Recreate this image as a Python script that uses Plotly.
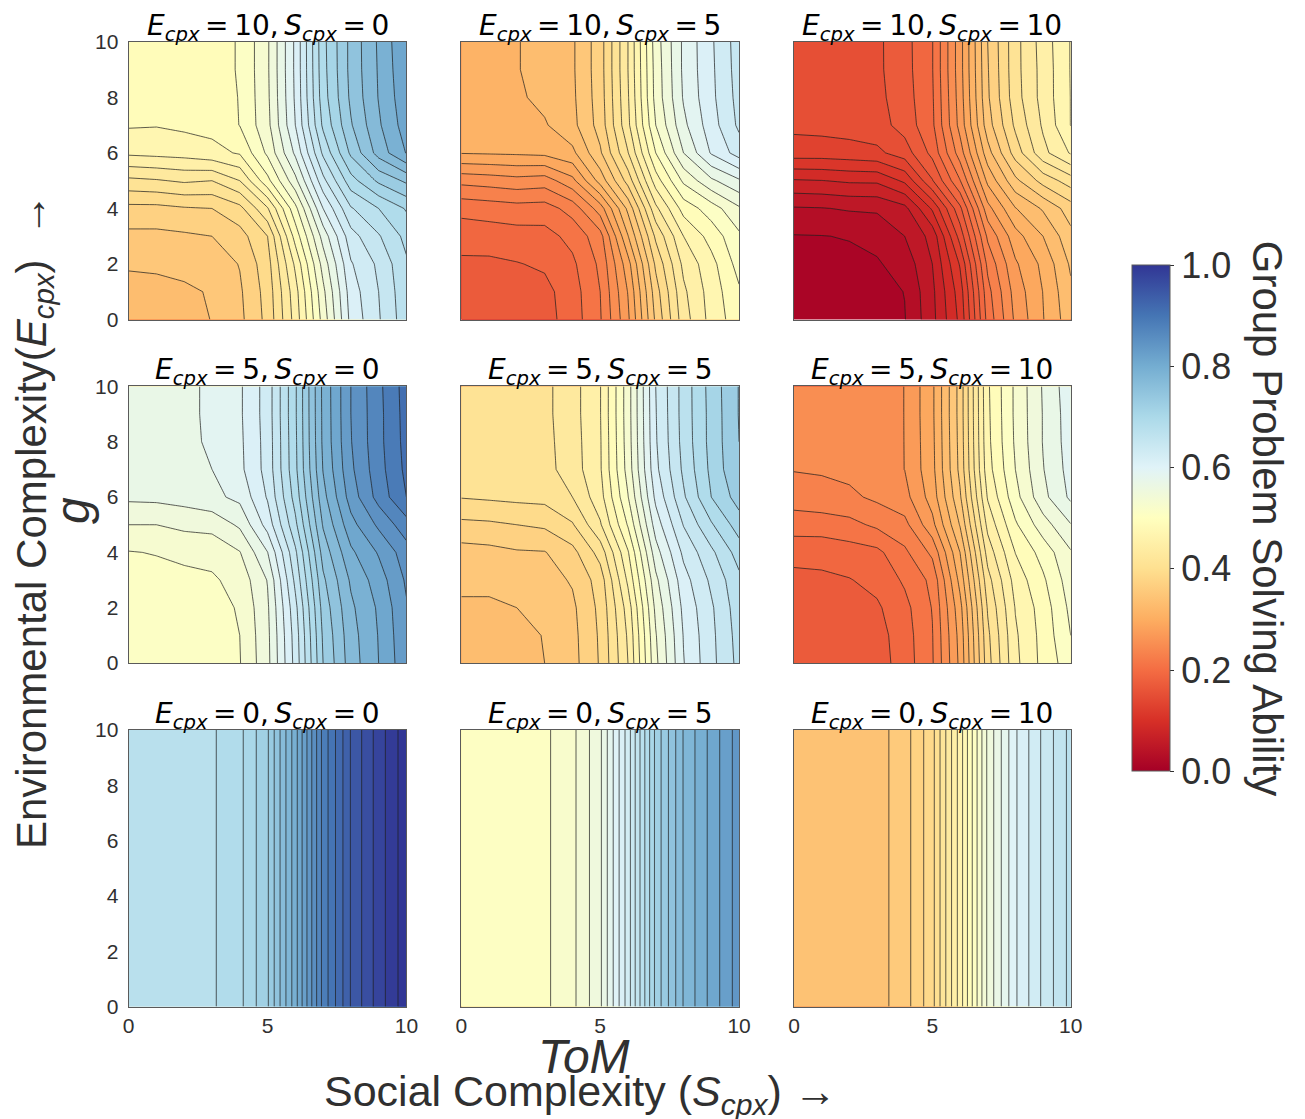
import plotly.graph_objects as go

# Group problem solving ability in percent.
# Rows run from g = 0 (first) to g = 10 (last), columns from ToM = 0 to ToM = 10.
tom = [0, 1, 2, 3, 4, 5, 6, 7, 8, 9, 10]
g = [0, 1, 2, 3, 4, 5, 6, 7, 8, 9, 10]

e10_s0 = [
    [32.2, 32.3, 32.8, 34.1, 35.5, 38.6, 44.8, 52.8, 60.6, 63.8, 67.2],
    [32.8, 33.1, 33.6, 34.2, 35.7, 38.8, 45.2, 53.5, 61.0, 64.0, 67.4],
    [34.4, 34.5, 34.7, 34.8, 36.1, 39.2, 46.4, 54.8, 61.8, 64.4, 67.7],
    [35.5, 35.5, 35.7, 36.0, 37.2, 40.0, 48.8, 56.8, 63.2, 65.8, 68.6],
    [37.4, 37.4, 37.8, 38.0, 39.4, 43.8, 51.4, 60.0, 65.8, 68.0, 70.2],
    [41.5, 41.8, 42.3, 42.0, 44.0, 49.4, 55.4, 63.4, 69.2, 72.4, 74.4],
    [46.4, 46.6, 46.8, 47.4, 48.2, 52.4, 58.4, 66.4, 72.4, 76.8, 80.1],
    [48.2, 48.1, 48.4, 48.6, 50.05, 53.4, 60.0, 68.4, 73.8, 77.7, 81.0],
    [49.2, 49.1, 49.3, 49.4, 50.05, 53.6, 60.3, 69.1, 74.4, 78.1, 81.4],
    [49.4, 49.3, 49.4, 49.5, 50.1, 53.7, 60.4, 69.3, 74.6, 78.2, 81.7],
    [49.4, 49.3, 49.4, 49.5, 50.1, 53.7, 60.4, 69.4, 74.6, 78.3, 81.9],
]
e10_s5 = [
    [16.2, 16.3, 16.6, 17.2, 19.0, 21.8, 27.6, 36.4, 43.1, 46.7, 49.2],
    [16.6, 16.9, 17.1, 17.4, 19.1, 22.0, 28.1, 37.1, 43.6, 46.9, 49.7],
    [17.6, 17.6, 17.9, 18.3, 19.6, 22.4, 29.2, 38.4, 44.5, 47.3, 50.8],
    [18.9, 19.0, 19.2, 19.3, 20.6, 23.2, 31.9, 40.4, 46.0, 48.8, 51.6],
    [20.6, 20.9, 21.2, 21.1, 22.8, 27.0, 34.5, 43.5, 48.8, 51.0, 53.7],
    [24.6, 24.9, 25.3, 25.0, 27.4, 32.8, 38.8, 47.0, 52.4, 55.6, 57.7],
    [30.1, 30.2, 30.3, 30.5, 31.5, 35.7, 41.9, 50.0, 56.0, 60.2, 62.9],
    [30.9, 30.9, 31.0, 31.8, 33.4, 36.8, 43.5, 52.0, 57.5, 61.1, 64.4],
    [31.2, 31.4, 31.7, 32.5, 33.6, 37.0, 43.8, 52.7, 58.2, 61.5, 64.7],
    [31.3, 31.6, 31.9, 32.7, 33.7, 37.1, 44.0, 52.8, 58.4, 61.6, 64.9],
    [31.3, 31.6, 31.9, 32.7, 33.7, 37.1, 44.0, 53.0, 58.4, 61.7, 65.0],
]
e10_s10 = [
    [0.1, 0.2, 0.5, 1.1, 1.9, 5.4, 10.5, 20.7, 26.4, 29.9, 33.2],
    [0.4, 0.65, 0.95, 1.25, 2.05, 5.55, 11.0, 21.3, 26.85, 30.05, 33.6],
    [1.1, 1.25, 1.55, 1.8, 2.8, 6.0, 12.2, 22.5, 27.7, 30.5, 34.3],
    [1.9, 1.95, 2.1, 2.55, 4.0, 6.7, 14.8, 24.4, 29.2, 32.0, 35.4],
    [3.8, 3.9, 4.2, 4.3, 5.4, 10.3, 17.5, 27.3, 31.9, 34.25, 37.0],
    [7.8, 7.95, 8.3, 8.35, 10.4, 15.85, 21.9, 30.5, 35.5, 38.75, 41.0],
    [13.0, 13.0, 13.2, 13.55, 15.0, 18.6, 25.0, 33.2, 38.9, 43.4, 46.2],
    [14.5, 14.65, 14.85, 15.15, 16.8, 19.6, 26.7, 35.1, 40.4, 44.3, 48.05],
    [14.9, 14.95, 15.15, 15.45, 17.1, 19.75, 27.0, 35.7, 41.15, 44.75, 48.05],
    [15.0, 15.1, 15.3, 15.6, 17.25, 19.9, 27.2, 35.85, 41.3, 44.75, 48.1],
    [15.0, 15.1, 15.3, 15.6, 17.3, 19.9, 27.2, 36.0, 41.3, 44.9, 48.1],
]
e5_s0 = [
    [50.1, 50.2, 50.5, 50.9, 51.9, 55.4, 62.7, 72.0, 77.0, 80.0, 83.4],
    [50.2, 50.3, 50.6, 51.0, 52.0, 55.5, 62.9, 72.3, 77.2, 80.1, 83.6],
    [50.6, 50.7, 51.0, 51.2, 52.2, 55.7, 63.4, 72.8, 77.6, 80.3, 83.8],
    [51.1, 51.3, 51.55, 51.7, 52.75, 56.1, 64.5, 73.6, 78.3, 81.0, 84.3],
    [51.9, 52.1, 52.4, 52.7, 53.9, 57.95, 65.6, 74.8, 79.6, 82.2, 85.1],
    [54.0, 54.0, 54.5, 54.65, 56.35, 60.8, 67.5, 76.2, 81.3, 84.4, 87.2],
    [56.4, 56.5, 56.8, 57.5, 58.5, 62.2, 68.8, 77.3, 82.9, 86.75, 90.0],
    [56.8, 57.0, 57.3, 58.0, 59.5, 62.75, 69.5, 78.1, 83.6, 87.2, 90.5],
    [57.0, 57.2, 57.5, 58.3, 59.6, 62.8, 69.6, 78.4, 83.9, 87.4, 90.7],
    [57.0, 57.2, 57.5, 58.4, 59.7, 62.9, 69.7, 78.45, 84.0, 87.4, 90.8],
    [57.0, 57.2, 57.5, 58.4, 59.7, 62.9, 69.7, 78.5, 84.0, 87.5, 90.9],
]
e5_s5 = [
    [32.1, 32.2, 32.7, 34.0, 35.3, 38.2, 44.0, 53.5, 59.9, 63.4, 66.6],
    [32.5, 32.55, 33.0, 34.15, 35.4, 38.3, 44.3, 53.85, 60.1, 63.5, 66.8],
    [33.6, 33.6, 34.0, 34.5, 35.6, 38.5, 44.9, 54.5, 60.5, 63.7, 67.1],
    [34.6, 34.6, 34.9, 35.2, 36.2, 38.9, 46.4, 55.5, 61.2, 64.4, 67.5],
    [35.2, 35.4, 35.8, 35.9, 37.35, 40.8, 47.8, 57.15, 62.45, 65.55, 68.9],
    [37.5, 37.65, 38.0, 38.35, 39.8, 43.75, 50.2, 58.95, 64.1, 67.75, 71.0],
    [40.1, 40.3, 40.5, 40.6, 42.0, 45.2, 51.9, 60.5, 65.7, 70.0, 72.9],
    [40.6, 40.8, 40.9, 41.3, 43.0, 45.75, 52.8, 61.5, 66.4, 70.5, 73.9],
    [40.8, 40.9, 41.1, 41.4, 43.1, 45.8, 53.0, 61.8, 66.7, 70.7, 74.0],
    [40.9, 41.0, 41.2, 41.5, 43.2, 45.9, 53.1, 61.9, 66.8, 70.7, 74.1],
    [40.9, 41.0, 41.2, 41.5, 43.2, 45.9, 53.1, 62.0, 66.8, 70.8, 74.1],
]
e5_s10 = [
    [16.1, 16.2, 16.5, 17.0, 19.0, 21.8, 28.5, 39.2, 45.5, 48.6, 51.2],
    [16.4, 16.5, 16.8, 17.2, 19.1, 21.9, 28.75, 39.55, 45.7, 48.7, 52.0],
    [16.9, 17.0, 17.3, 17.7, 19.4, 22.1, 29.3, 40.2, 46.1, 48.9, 52.5],
    [17.5, 17.6, 17.9, 18.6, 20.3, 22.5, 30.65, 41.25, 46.8, 49.65, 53.1],
    [18.6, 18.7, 19.1, 19.5, 21.6, 24.45, 32.0, 42.85, 48.05, 50.8, 53.8],
    [21.0, 21.0, 21.4, 22.4, 23.4, 27.4, 34.15, 44.6, 49.7, 53.1, 55.9],
    [22.9, 23.3, 23.6, 24.4, 25.3, 28.9, 35.7, 46.2, 51.3, 55.4, 58.4],
    [24.1, 24.2, 24.5, 25.0, 26.02, 29.4, 36.55, 47.2, 52.0, 55.9, 58.8],
    [24.5, 24.6, 24.8, 25.3, 26.02, 29.5, 36.7, 47.5, 52.3, 56.1, 59.0],
    [24.6, 24.7, 24.9, 25.4, 26.02, 29.6, 36.8, 47.6, 52.4, 56.1, 59.1],
    [24.6, 24.8, 25.0, 25.4, 26.02, 29.6, 36.8, 47.7, 52.4, 56.2, 59.3],
]
# With no environmental complexity the ability does not depend on g.
e0_s0_by_tom = [67.0, 67.1, 67.2, 67.3, 68.6, 71.8, 78.9, 87.5, 93.1, 96.7, 100.0]
e0_s5_by_tom = [50.5, 50.55, 50.6, 50.7, 52.1, 55.2, 62.25, 70.9, 76.6, 80.0, 83.3]
e0_s10_by_tom = [33.5, 33.6, 33.8, 33.9, 35.3, 38.5, 45.7, 54.3, 59.8, 63.3, 66.5]
g_ends = [0, 10]

panel_e = ["10", "10", "10", "5", "5", "5", "0", "0", "0"]
panel_s = ["0", "5", "10", "0", "5", "10", "0", "5", "10"]
panel_step = [2, 2, 2, 2, 2, 2, 1.5, 1.5, 1.5]
panel_y = [g, g, g, g, g, g, g_ends, g_ends, g_ends]
panel_z = [
    e10_s0, e10_s5, e10_s10, e5_s0, e5_s5, e5_s10,
    [e0_s0_by_tom, e0_s0_by_tom], [e0_s5_by_tom, e0_s5_by_tom], [e0_s10_by_tom, e0_s10_by_tom],
]
colorbar_ticks = [0, 0.2, 0.4, 0.6, 0.8, 1.0]

W, H = 1305, 1119
M = 20
# Plot area that results once the outer texts have pushed the margins (measured from the render).
AREA_L, AREA_W, AREA_T, AREA_H = 19.2, 1262.3, 23.1, 1073.4
col_px = [(128, 406), (461, 739), (794, 1071)]
row_px = [(41, 319), (386, 663), (730, 1007)]
def fx(px):
    return (px - AREA_L) / AREA_W
def fy(py):
    return 1 - (py - AREA_T) / AREA_H

INK = "#303030"
SANS = "Liberation Sans, Arial, sans-serif"
MATH = "DejaVu Sans, sans-serif"
rdylbu = ["#a50026", "#d73027", "#f46d43", "#fdae61", "#fee090", "#ffffbf",
          "#e0f3f8", "#abd9e9", "#74add1", "#4575b4", "#313695"]
scale = [[i / 10, c] for i, c in enumerate(rdylbu)]

fig = go.Figure()
layout = {}
annotations = []
for i in range(9):
    r, c = i // 3, i % 3
    suffix = "" if i == 0 else str(i + 1)
    (x0, x1), (y0, y1) = col_px[c], row_px[r]
    step = panel_step[i]
    fig.add_trace(go.Contour(
        x=tom, y=panel_y[i], z=panel_z[i],
        xaxis="x" + suffix, yaxis="y" + suffix,
        colorscale=scale, zmin=0, zmax=100, showscale=False, autocontour=False,
        contours=dict(start=0, end=102, size=step, coloring="fill", showlines=True),
        line=dict(color="rgba(30,30,30,0.8)", width=0.9, smoothing=0),
        hoverinfo="skip",
    ))
    axis = dict(showgrid=False, zeroline=False, showline=True, mirror=True, linecolor="#5a5a5a",
                linewidth=1.3, ticks="", tickfont=dict(family=SANS, size=21, color=INK),
                range=[0, 10], fixedrange=True)
    layout["xaxis" + suffix] = dict(axis, domain=[fx(x0), fx(x1)], anchor="y" + suffix,
                                    tickvals=[0, 5, 10], showticklabels=r == 2)
    layout["yaxis" + suffix] = dict(axis, domain=[fy(y1), fy(y0)], anchor="x" + suffix,
                                    tickvals=[0, 2, 4, 6, 8, 10], showticklabels=c == 0,
                                    ticklabelstandoff=5)
    sub = "<sub><i>cpx</i></sub>"
    annotations.append(dict(
        text=f"<i>E</i>{sub}\u2009=\u2009{panel_e[i]},\u2009<i>S</i>{sub}\u2009=\u2009{panel_s[i]}",
        x=fx((x0 + x1) / 2), y=fy(y0 + 6), xref="paper", yref="paper",
        xanchor="center", yanchor="bottom", showarrow=False,
        font=dict(family=MATH, size=28, color="#000000"),
    ))

# Carries the shared colour bar; its points lie outside the axis range.
fig.add_trace(go.Scatter(
    x=[-5, -5], y=[-5, -5], mode="markers", hoverinfo="skip", showlegend=False,
    marker=dict(size=1, color=colorbar_ticks[0:1] + colorbar_ticks[-1:], colorscale=scale,
                cmin=0, cmax=1, showscale=True,
                colorbar=dict(
                    x=fx(1132), xanchor="left", xpad=0, ypad=0,
                    y=fy(518), yanchor="middle",
                    thickness=38, thicknessmode="pixels", len=506, lenmode="pixels",
                    tickvals=colorbar_ticks, ticktext=[f"{v:.1f}" for v in colorbar_ticks],
                    ticks="outside", ticklen=4, tickwidth=1, tickcolor=INK,
                    tickfont=dict(family=SANS, size=36, color=INK),
                    outlinecolor="#5a5a5a", outlinewidth=1,
                )),
))

def label(text, px, py, size, angle=0):
    annotations.append(dict(text=text, x=fx(px), y=fy(py), xref="paper", yref="paper",
                            xanchor="center", yanchor="middle", showarrow=False, textangle=angle,
                            font=dict(family=SANS, size=size, color=INK)))

label("Group Problem Solving Ability", 1268, 518, 42, 90)
label("Environmental Complexity(<i>E</i><sub><i>cpx</i></sub>)\u00a0\u00a0<b>→</b>", 33, 521, 42, -90)
label("<i>g</i>", 72, 510, 48, -90)
label("<i>ToM</i>", 584, 1057, 48)
label("Social Complexity (<i>S</i><sub><i>cpx</i></sub>) <b>→</b>", 580, 1094, 43)

fig.update_layout(width=W, height=H, autosize=False, margin=dict(l=M, r=M, t=M, b=M),
                  paper_bgcolor="white", plot_bgcolor="white", showlegend=False,
                  annotations=annotations, **layout)
fig.write_html("out.html", config={"displayModeBar": False},
               post_script="document.body.style.margin='0';")
